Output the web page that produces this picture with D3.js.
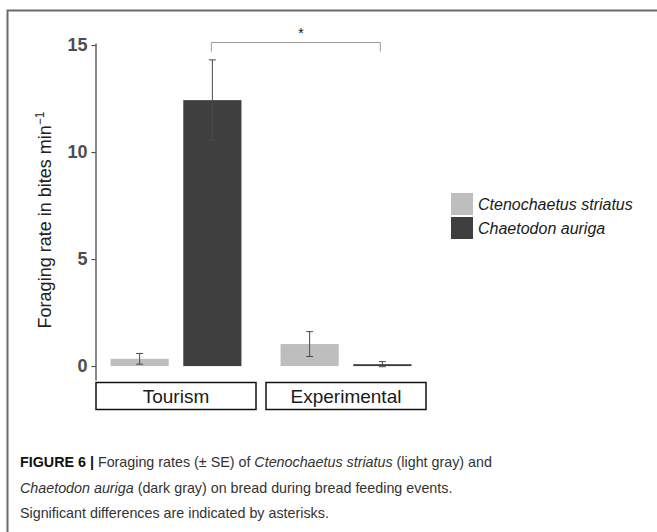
<!DOCTYPE html>
<html>
<head>
<meta charset="utf-8">
<script src="https://cdn.jsdelivr.net/npm/d3@7"></script>
<style>
  body { margin: 0; background: #fff; }
  svg { display: block; font-family: "Liberation Sans", Arial, sans-serif; }
</style>
</head>
<body>
<script>
// data
const panels = ["Tourism", "Experimental"]
const species = ["Ctenochaetus striatus", "Chaetodon auriga"]
const tourismMeans = [0.34, 12.43]
const tourismSE = [0.25, 1.88]
const experimentalMeans = [1.03, 0.09]
const experimentalSE = [0.58, 0.12]
const yTicks = [0, 5, 10, 15]
const captionLines = [
  [["FIGURE 6 |", "b"], [" Foraging rates (± SE) of ", ""], ["Ctenochaetus striatus", "i"], [" (light gray) and", ""]],
  [["Chaetodon auriga", "i"], [" (dark gray) on bread during bread feeding events.", ""]],
  [["Significant differences are indicated by asterisks.", ""]]
]

const w = 657
const h = 532
const colors = ["#bebebe", "#3f3f3f"]

const dataset = []
panels.forEach((p, i) => {
  const means = i === 0 ? tourismMeans : experimentalMeans
  const se = i === 0 ? tourismSE : experimentalSE
  species.forEach((s, j) => {
    dataset.push({ panel: p, species: s, mean: means[j], se: se[j] })
  })
})

const svg = d3.select("body")
  .append("svg")
  .attr("width", w)
  .attr("height", h)

// figure frame (top + left)
svg.append("path")
  .attr("d", `M7.5,${h} V10.5 H${w}`)
  .attr("fill", "none")
  .attr("stroke", "#6a6a6a")
  .attr("stroke-width", 2)

const yScale = d3.scaleLinear()
  .domain([-0.65, 15.1])
  .range([380, 43])

const facet = d3.scaleBand()
  .domain(panels)
  .range([96, 426])
  .paddingInner(10 / 170)

const xInner = d3.scaleBand()
  .domain(species)
  .range([0, facet.bandwidth()])
  .paddingInner(0.2)
  .paddingOuter(0.2)

const color = d3.scaleOrdinal().domain(species).range(colors)
const barX = d => facet(d.panel) + xInner(d.species)
const barMid = d => barX(d) + xInner.bandwidth() / 2

// bars
svg.append("g")
  .selectAll("rect")
  .data(dataset)
  .enter()
  .append("rect")
  .attr("x", barX)
  .attr("width", xInner.bandwidth())
  .attr("y", d => yScale(d.mean))
  .attr("height", d => yScale(0) - yScale(d.mean))
  .attr("fill", d => color(d.species))

// error bars
const err = svg.append("g")
  .attr("stroke", "#4a4a4a")
  .attr("stroke-width", 1)
  .attr("fill", "none")
dataset.forEach(d => {
  const cx = barMid(d)
  const y1 = yScale(d.mean + d.se)
  const y2 = yScale(d.mean - d.se)
  err.append("path")
    .attr("d", `M${cx - 3.5},${y1} H${cx + 3.5} M${cx},${y1} V${y2} M${cx - 3.5},${y2} H${cx + 3.5}`)
})

// y axis
const yAxis = d3.axisLeft(yScale)
  .tickValues(yTicks)
  .tickSize(4)
  .tickSizeOuter(0)
const ya = svg.append("g")
  .attr("transform", "translate(95.5,0)")
  .call(yAxis)
ya.select(".domain").attr("stroke", "#111")
ya.selectAll(".tick line").attr("stroke", "#333")
ya.selectAll(".tick text")
  .attr("x", -8)
  .attr("fill", "#4d4d4d")
  .style("font-size", "18px")
  .style("font-weight", "bold")
  .style("font-family", "Liberation Sans, Arial, sans-serif")

// y label
const ylab = svg.append("text")
  .attr("transform", "translate(51,220) rotate(-90)")
  .attr("text-anchor", "middle")
  .attr("fill", "#222")
  .style("font-size", "18px")
ylab.append("tspan").text("Foraging rate in bites min")
ylab.append("tspan").attr("dy", -7).style("font-size", "12px").text("−1")

// strips below panels
const strips = svg.append("g")
panels.forEach(p => {
  strips.append("rect")
    .attr("x", facet(p))
    .attr("y", 382.5)
    .attr("width", facet.bandwidth())
    .attr("height", 27)
    .attr("fill", "#fff")
    .attr("stroke", "#111")
    .attr("stroke-width", 1.5)
  strips.append("text")
    .attr("x", facet(p) + facet.bandwidth() / 2)
    .attr("y", 403)
    .attr("text-anchor", "middle")
    .attr("fill", "#1a1a1a")
    .style("font-size", "19px")
    .text(p)
})

// significance bracket
const a = dataset[1], b = dataset[3]
const bx1 = barMid(a) - 1
const bx2 = barMid(b) - 2
const by = 42.5
svg.append("path")
  .attr("d", `M${bx1},${by + 9} V${by} H${bx2} V${by + 9}`)
  .attr("fill", "none")
  .attr("stroke", "#999")
  .attr("stroke-width", 1)
svg.append("text")
  .attr("x", (bx1 + bx2) / 2 + 5)
  .attr("y", 38)
  .attr("text-anchor", "middle")
  .attr("fill", "#111")
  .style("font-size", "14px")
  .text("*")

// legend
const legend = svg.append("g").attr("transform", "translate(451,193)")
species.forEach((s, i) => {
  legend.append("rect")
    .attr("x", 0)
    .attr("y", i * 24)
    .attr("width", 22)
    .attr("height", 22)
    .attr("fill", colors[i])
  legend.append("text")
    .attr("x", 27)
    .attr("y", i * 24 + 16.5)
    .attr("fill", "#1a1a1a")
    .style("font-size", "16px")
    .style("font-style", "italic")
    .text(s)
})

// caption
const caption = svg.append("g")
captionLines.forEach((line, i) => {
  const t = caption.append("text")
    .attr("x", 20)
    .attr("y", 467 + i * 25.5)
    .attr("fill", "#333")
    .style("font-size", "14.3px")
  line.forEach(([txt, st]) => {
    const span = t.append("tspan").text(txt)
    if (st === "b") span.style("font-weight", "bold").attr("fill", "#111")
    if (st === "i") span.style("font-style", "italic")
  })
})
</script>
</body>
</html>
